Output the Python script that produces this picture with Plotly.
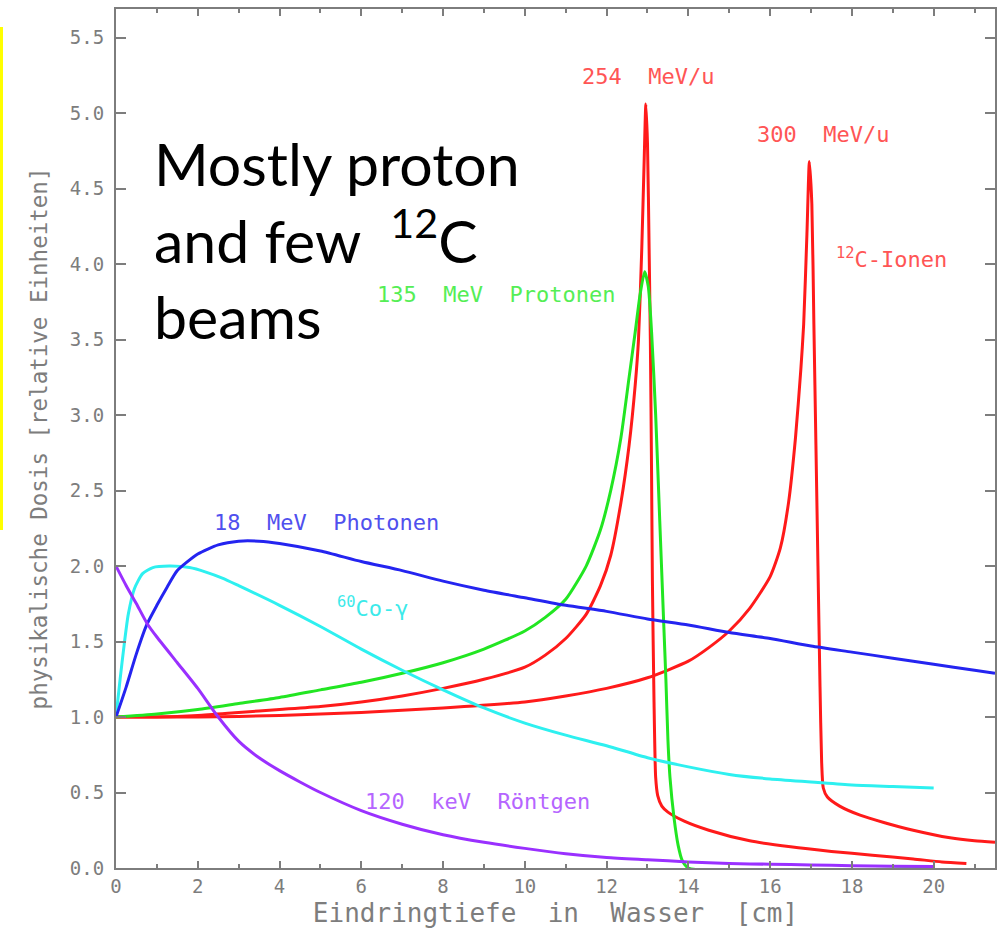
import plotly.graph_objects as go

# ---------------- data ----------------
red254_x = [0, 1, 2, 3, 4, 5, 6, 7, 8, 9, 10, 10.5, 11, 11.5, 11.85, 12.1, 12.35, 12.55, 12.7, 12.78,
            12.86, 12.92, 12.96, 13.0, 13.04, 13.07, 13.1, 13.12, 13.16, 13.2, 13.25, 13.35, 13.5,
            13.9, 14.5, 15.5, 16.5, 17.5, 18.5, 19.5, 20.2, 20.8]
red254_y = [1.00, 1.00, 1.01, 1.03, 1.05, 1.07, 1.10, 1.14, 1.19, 1.25, 1.33, 1.41, 1.52, 1.68, 1.87,
            2.07, 2.42, 2.8, 3.2, 3.5, 4.1, 4.7, 5.06, 4.8, 4.1, 3.5, 2.6, 1.91, 1.1, 0.6, 0.48,
            0.41, 0.37, 0.31, 0.25, 0.18, 0.14, 0.11, 0.085, 0.06, 0.04, 0.03]

red300_x = [0, 2, 4, 6, 8, 10, 11, 12, 13, 14, 14.5, 15, 15.5, 16, 16.25, 16.45, 16.62, 16.75, 16.82,
            16.9, 16.96, 17.02, 17.07, 17.12, 17.17, 17.22, 17.26, 17.3, 17.4, 17.7, 18.2, 18.8,
            19.5, 20.4, 21, 21.5]
red300_y = [1.00, 1.00, 1.01, 1.03, 1.06, 1.10, 1.14, 1.19, 1.26, 1.37, 1.46, 1.57, 1.72, 1.93, 2.12,
            2.42, 2.85, 3.3, 3.6, 4.2, 4.68, 4.4, 3.6, 2.8, 2.0, 1.2, 0.7, 0.53, 0.47, 0.41, 0.35,
            0.30, 0.25, 0.20, 0.18, 0.17]

green_x = [0, 1, 2, 3, 4, 5, 6, 7, 8, 9, 10, 10.5, 11, 11.5, 11.85, 12.1, 12.35, 12.55, 12.7, 12.82,
           12.93, 13.02, 13.1, 13.2, 13.3, 13.4, 13.45, 13.5, 13.55, 13.65, 13.75, 13.85, 14.0, 20]
green_y = [1.00, 1.02, 1.05, 1.09, 1.13, 1.18, 1.23, 1.29, 1.36, 1.45, 1.57, 1.66, 1.78, 2.0, 2.24,
           2.5, 2.85, 3.25, 3.55, 3.8, 3.95, 3.85, 3.55, 3.0, 2.3, 1.6, 1.25, 0.85, 0.6, 0.33,
           0.15, 0.05, 0.0, 0.0]

blue_x = [0, 0.25, 0.5, 0.75, 1.0, 1.25, 1.5, 2.0, 2.5, 3.0, 3.5, 4, 5, 6, 7, 8, 9, 10, 11, 12, 13,
          14, 15, 16, 17, 18, 19, 20, 21, 21.5]
blue_y = [1.00, 1.2, 1.42, 1.61, 1.74, 1.86, 1.97, 2.08, 2.14, 2.165, 2.165, 2.15, 2.10, 2.03, 1.97,
          1.90, 1.84, 1.79, 1.74, 1.70, 1.65, 1.61, 1.56, 1.52, 1.47, 1.43, 1.39, 1.35, 1.31, 1.29]

cyan_x = [0, 0.1, 0.2, 0.3, 0.45, 0.65, 0.9, 1.3, 1.8, 2.2, 2.6, 3, 4, 5, 6, 7, 8, 9, 10, 11, 12, 13,
          14, 15, 16, 17, 18, 19, 20]
cyan_y = [1.00, 1.25, 1.48, 1.68, 1.85, 1.95, 1.99, 2.0, 1.99, 1.96, 1.92, 1.87, 1.74, 1.60, 1.45,
          1.31, 1.18, 1.06, 0.96, 0.88, 0.81, 0.73, 0.67, 0.62, 0.59, 0.57, 0.55, 0.54, 0.53]

purple_x = [0, 0.25, 0.5, 0.76, 1.0, 1.5, 2.0, 2.5, 3.0, 3.5, 4, 4.5, 5, 6, 7, 8, 9, 10, 11, 12,
            13, 14, 15, 16, 17, 18, 19, 20]
purple_y = [2.0, 1.87, 1.75, 1.62, 1.53, 1.36, 1.19, 1.0, 0.84, 0.73, 0.645, 0.57, 0.50, 0.38,
            0.29, 0.22, 0.17, 0.13, 0.095, 0.07, 0.055, 0.04, 0.03, 0.025, 0.02, 0.015, 0.012, 0.01]

x_ticks = [0, 2, 4, 6, 8, 10, 12, 14, 16, 18, 20]
y_ticks = [0.0, 0.5, 1.0, 1.5, 2.0, 2.5, 3.0, 3.5, 4.0, 4.5, 5.0, 5.5]

labels = ["254  MeV/u", "300  MeV/u", "<sup>12</sup>C-Ionen", "135  MeV  Protonen",
          "18  MeV  Photonen", "<sup>60</sup>Co-γ", "120  keV  Röntgen"]
label_x = [11.36, 15.64, 17.55, 6.34, 2.35, 5.36, 6.05]
label_y = [5.24, 4.86, 4.04, 3.80, 2.29, 1.73, 0.44]

x_title = "Eindringtiefe  in  Wasser  [cm]"
y_title = "physikalische Dosis [relative Einheiten]"
big_text = "Mostly proton<br>and few  <sup>12</sup>C<br>beams"

# ---------------- styles ----------------
RED, GREEN, BLUE, CYAN, PURPLE = "#ff1a1a", "#22e622", "#2424f0", "#2ef0f0", "#9a30ff"
label_colors = ["#ff5555", "#ff5555", "#ff5555", "#55ee55", "#5050ee", "#3ceaea", "#b565ff"]
GRAY = "#7d7d7d"
MONO = "DejaVu Sans Mono"

fig = go.Figure()
for xs, ys, c in [(red254_x, red254_y, RED), (red300_x, red300_y, RED), (green_x, green_y, GREEN),
                  (cyan_x, cyan_y, CYAN), (blue_x, blue_y, BLUE), (purple_x, purple_y, PURPLE)]:
    fig.add_trace(go.Scatter(x=xs, y=ys, mode="lines",
                             line=dict(color=c, width=3, shape="spline", smoothing=0.6),
                             showlegend=False, hoverinfo="skip"))

for t, lx, ly, c in zip(labels, label_x, label_y, label_colors):
    fig.add_annotation(x=lx, y=ly, text=t, showarrow=False, xanchor="left", yanchor="middle",
                       font=dict(family=MONO, size=22, color=c))

W, H = 999, 936
ml, mr, mt, mb = 116, 4, 9, 68
pw, ph = W - ml - mr, H - mt - mb

fig.add_annotation(xref="paper", yref="paper", x=(152 - ml) / pw, y=(H - mb - 126) / ph,
                   xanchor="left", yanchor="top", align="left", showarrow=False, text=big_text,
                   font=dict(family="Lato", size=59, color="black"))

fig.add_shape(type="line", xref="paper", yref="paper",
              x0=(1.5 - ml) / pw, x1=(1.5 - ml) / pw,
              y0=(H - mb - 530) / ph, y1=(H - mb - 27) / ph,
              line=dict(color="#ffff00", width=3))

axis_common = dict(showline=True, linecolor=GRAY, linewidth=2, mirror="allticks", ticks="inside",
                   tickcolor=GRAY, tickwidth=2, showgrid=False, zeroline=False,
                   tickfont=dict(family=MONO, size=19, color=GRAY))

fig.update_xaxes(range=[0, 21.5], tickvals=x_ticks, ticktext=[str(v) for v in x_ticks], ticklen=7,
                 minor=dict(dtick=1, ticks="inside", ticklen=4, tickcolor=GRAY, tickwidth=2),
                 title=dict(text=x_title, font=dict(family=MONO, size=26, color=GRAY), standoff=8),
                 **axis_common)
fig.update_yaxes(range=[0, 5.69], tickvals=y_ticks, ticktext=[f"{v:.1f}" for v in y_ticks], ticklen=10,
                 ticklabelstandoff=6,
                 title=dict(text=y_title, font=dict(family=MONO, size=22.5, color=GRAY), standoff=16),
                 **axis_common)

fig.update_layout(width=W, height=H, margin=dict(l=ml, r=mr, t=mt, b=mb, autoexpand=False),
                  plot_bgcolor="white", paper_bgcolor="white")

fig.write_html("out.html", config={"displayModeBar": False},
               post_script="document.body.style.margin='0px';")
